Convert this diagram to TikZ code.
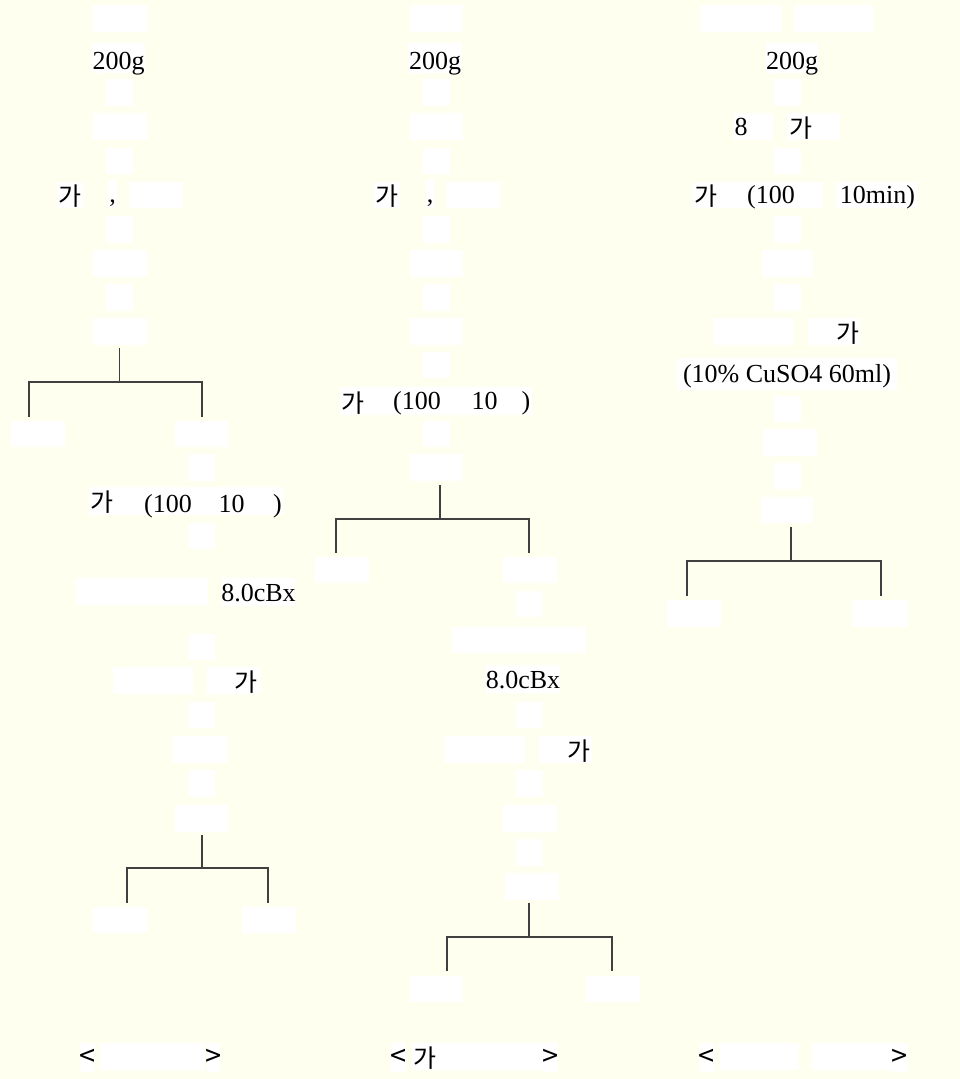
\documentclass[tikz,border=0pt]{standalone}
\usepackage{fontspec}
\setmainfont{Liberation Serif}
\newfontfamily\korfont{Noto Sans CJK KR}
\definecolor{bgivory}{RGB}{255,255,240}
\tikzset{
  x=1pt, y=-1pt,
  wb/.style={fill=white, inner sep=0pt, outer sep=0pt},
  lat/.style={font=\fontsize{26}{30}\selectfont, inner sep=0pt, anchor=base},
  kor/.style={font=\korfont\fontsize{25}{30}\selectfont, inner sep=0pt, yshift=-2pt},
  ang/.style={font=\korfont\fontsize{29}{32}\selectfont, inner sep=0pt},
  tree/.style={draw=black!75, line width=1.2pt}
}
\newcommand\wbx[5]{\node[wb, minimum width={(#4-#2)*1pt}, minimum height={(#5-#3)*1pt}] (#1) at ({(#2+#4)/2},{(#3+#5)/2}) {};}
\begin{document}
\begin{tikzpicture}
\fill[bgivory] (0,0) rectangle (960,1079);
\useasboundingbox (0,0) rectangle (960,1079);

% ---------------- column 1 ----------------
\wbx{a1}{93}{5}{147}{32}
\wbx{a2}{92}{43}{145}{73}
\node[lat] (a2t) at (118.5,69) {200g};
\wbx{a3}{106}{79}{133}{106}
\wbx{a4}{93}{113}{147}{140}
\wbx{a5}{106}{148}{133}{174}
\wbx{a6a}{57}{182}{83}{208}
\node[kor] (a6k) at (69.5,194) {가};
\wbx{a6b}{108}{180}{117}{208}
\node[lat] (a6c) at (112.5,202) {,};
\wbx{a6d}{129}{182}{183}{208}
\wbx{a7}{106}{216}{133}{243}
\wbx{a8}{93}{250}{147}{277}
\wbx{a9}{106}{284}{133}{311}
\wbx{a10}{93}{318}{147}{345}
\coordinate (a10s) at (119.5,348);
\coordinate (aj) at (119.5,382);
\coordinate (ajl) at (29,382);
\coordinate (ajr) at (202,382);
\coordinate (ajlb) at (29,417);
\coordinate (ajrb) at (202,417);
\draw[tree] (a10s) -- (aj);
\draw[tree] (ajlb) -- (ajl) -- (ajr) -- (ajrb);
\wbx{a11}{11}{421}{65}{447}
\wbx{a12}{175}{421}{228}{447}
\wbx{a13}{189}{454}{215}{481}
\wbx{a14}{89}{487}{283}{515}
\node[kor] (a14k) at (102,500) {가};
\node[lat] (a14b) at (168,512) {(100};
\node[lat] (a14c) at (231.5,512) {10};
\node[lat] (a14d) at (277.5,512) {)};
\wbx{a15}{189}{523}{215}{549}
\wbx{a16}{76}{578}{208}{605}
\wbx{a16b}{222}{578}{295}{606}
\node[lat] (a16t) at (258.5,601) {8.0cBx};
\wbx{a17}{189}{634}{215}{660}
\wbx{a18}{113}{667}{193}{694}
\wbx{a18b}{207}{667}{260}{694}
\node[kor] (a18k) at (245.5,680) {가};
\wbx{a19}{189}{702}{215}{728}
\wbx{a20}{173}{736}{227}{763}
\wbx{a21}{189}{770}{215}{797}
\wbx{a22}{175}{805}{228}{832}
\coordinate (a22s) at (202,835);
\coordinate (bj) at (202,868);
\coordinate (bjl) at (127,868);
\coordinate (bjr) at (268,868);
\coordinate (bjlb) at (127,903);
\coordinate (bjrb) at (268,903);
\draw[tree] (a22s) -- (bj);
\draw[tree] (bjlb) -- (bjl) -- (bjr) -- (bjrb);
\wbx{a23}{93}{907}{147}{933}
\wbx{a24}{242}{907}{296}{933}
\wbx{ac1}{80}{1043}{95}{1072}
\node[ang] (ac1t) at (88,1058) {<};
\wbx{ac2}{100}{1043}{205}{1070}
\wbx{ac3}{207}{1043}{220}{1072}
\node[ang] (ac3t) at (213.5,1058) {>};

% ---------------- column 2 ----------------
\wbx{b1}{410}{5}{463}{32}
\wbx{b2}{408}{43}{462}{73}
\node[lat] (b2t) at (435,69) {200g};
\wbx{b3}{423}{79}{450}{106}
\wbx{b4}{410}{113}{463}{140}
\wbx{b5}{423}{148}{450}{174}
\wbx{b6a}{374}{182}{400}{208}
\node[kor] (b6k) at (387,194) {가};
\wbx{b6b}{426}{180}{434}{208}
\node[lat] (b6c) at (430,202) {,};
\wbx{b6d}{447}{182}{500}{208}
\wbx{b7}{423}{216}{450}{243}
\wbx{b8}{410}{250}{463}{277}
\wbx{b9}{423}{284}{450}{311}
\wbx{b10}{410}{318}{463}{345}
\wbx{b11}{423}{352}{450}{378}
\wbx{b12}{340}{387}{532}{415}
\node[kor] (b12k) at (352.5,401) {가};
\node[lat] (b12b) at (417,409) {(100};
\node[lat] (b12c) at (484.5,409) {10};
\node[lat] (b12d) at (526,409) {)};
\wbx{b13}{423}{421}{450}{447}
\wbx{b14}{410}{454}{463}{481}
\coordinate (b14s) at (440,485);
\coordinate (cj) at (440,519);
\coordinate (cjl) at (336,519);
\coordinate (cjr) at (529,519);
\coordinate (cjlb) at (336,553);
\coordinate (cjrb) at (529,553);
\draw[tree] (b14s) -- (cj);
\draw[tree] (cjlb) -- (cjl) -- (cjr) -- (cjrb);
\wbx{b15}{315}{557}{369}{583}
\wbx{b16}{503}{557}{557}{583}
\wbx{b17}{516}{591}{543}{617}
\wbx{b18}{452}{627}{586}{653}
\wbx{b19}{486}{665}{560}{693}
\node[lat] (b19t) at (523,688) {8.0cBx};
\wbx{b20}{516}{702}{543}{728}
\wbx{b21}{445}{736}{525}{763}
\wbx{b21b}{539}{736}{592}{763}
\node[kor] (b21k) at (578.5,749) {가};
\wbx{b22}{516}{770}{543}{797}
\wbx{b23}{503}{805}{557}{832}
\wbx{b24}{516}{839}{543}{866}
\wbx{b25}{505}{873}{559}{900}
\coordinate (b25s) at (529,903);
\coordinate (dj) at (529,937);
\coordinate (djl) at (447,937);
\coordinate (djr) at (612,937);
\coordinate (djlb) at (447,971);
\coordinate (djrb) at (612,971);
\draw[tree] (b25s) -- (dj);
\draw[tree] (djlb) -- (djl) -- (djr) -- (djrb);
\wbx{b26}{410}{976}{463}{1002}
\wbx{b27}{586}{976}{640}{1002}
\wbx{bc1}{391}{1043}{406}{1072}
\node[ang] (bc1t) at (398.5,1058) {<};
\wbx{bc2}{412}{1043}{543}{1070}
\node[kor] (bc2k) at (424.5,1056) {가};
\wbx{bc3}{543}{1043}{558}{1072}
\node[ang] (bc3t) at (550.5,1058) {>};

% ---------------- column 3 ----------------
\wbx{c1a}{701}{5}{782}{32}
\wbx{c1b}{794}{5}{873}{32}
\wbx{c2}{766}{43}{818}{73}
\node[lat] (c2t) at (792,69) {200g};
\wbx{c3}{774}{79}{801}{106}
\wbx{c4a}{734}{113}{773}{140}
\node[lat] (c4t) at (741,135) {8};
\wbx{c4b}{787}{113}{840}{140}
\node[kor] (c4k) at (800.5,126) {가};
\wbx{c5}{774}{148}{801}{174}
\wbx{c6a}{693}{182}{823}{208}
\node[kor] (c6k) at (705.5,194) {가};
\node[lat] (c6b) at (771,203) {(100};
\wbx{c6c}{836}{182}{917}{208}
\node[lat] (c6t) at (877.5,203) {10min)};
\wbx{c7}{774}{216}{801}{243}
\wbx{c8}{762}{250}{813}{277}
\wbx{c9}{774}{284}{801}{311}
\wbx{c10a}{713}{318}{793}{345}
\wbx{c10b}{808}{318}{860}{345}
\node[kor] (c10k) at (847.5,331) {가};
\wbx{c11}{677}{358}{897}{390}
\node[lat] (c11t) at (787,382) {(10\% CuSO4 60ml)};
\wbx{c12}{774}{396}{801}{422}
\wbx{c13}{763}{429}{817}{456}
\wbx{c14}{774}{463}{801}{489}
\wbx{c15}{761}{497}{813}{523}
\coordinate (c15s) at (791,527);
\coordinate (ej) at (791,561);
\coordinate (ejl) at (687,561);
\coordinate (ejr) at (881,561);
\coordinate (ejlb) at (687,596);
\coordinate (ejrb) at (881,596);
\draw[tree] (c15s) -- (ej);
\draw[tree] (ejlb) -- (ejl) -- (ejr) -- (ejrb);
\wbx{c16}{667}{600}{721}{627}
\wbx{c17}{853}{600}{908}{627}
\wbx{cc1}{700}{1043}{714}{1072}
\node[ang] (cc1t) at (706.5,1058) {<};
\wbx{cc2}{719}{1043}{799}{1070}
\wbx{cc3}{812}{1043}{892}{1070}
\wbx{cc4}{892}{1043}{907}{1072}
\node[ang] (cc4t) at (899.5,1058) {>};
\end{tikzpicture}
\end{document}
